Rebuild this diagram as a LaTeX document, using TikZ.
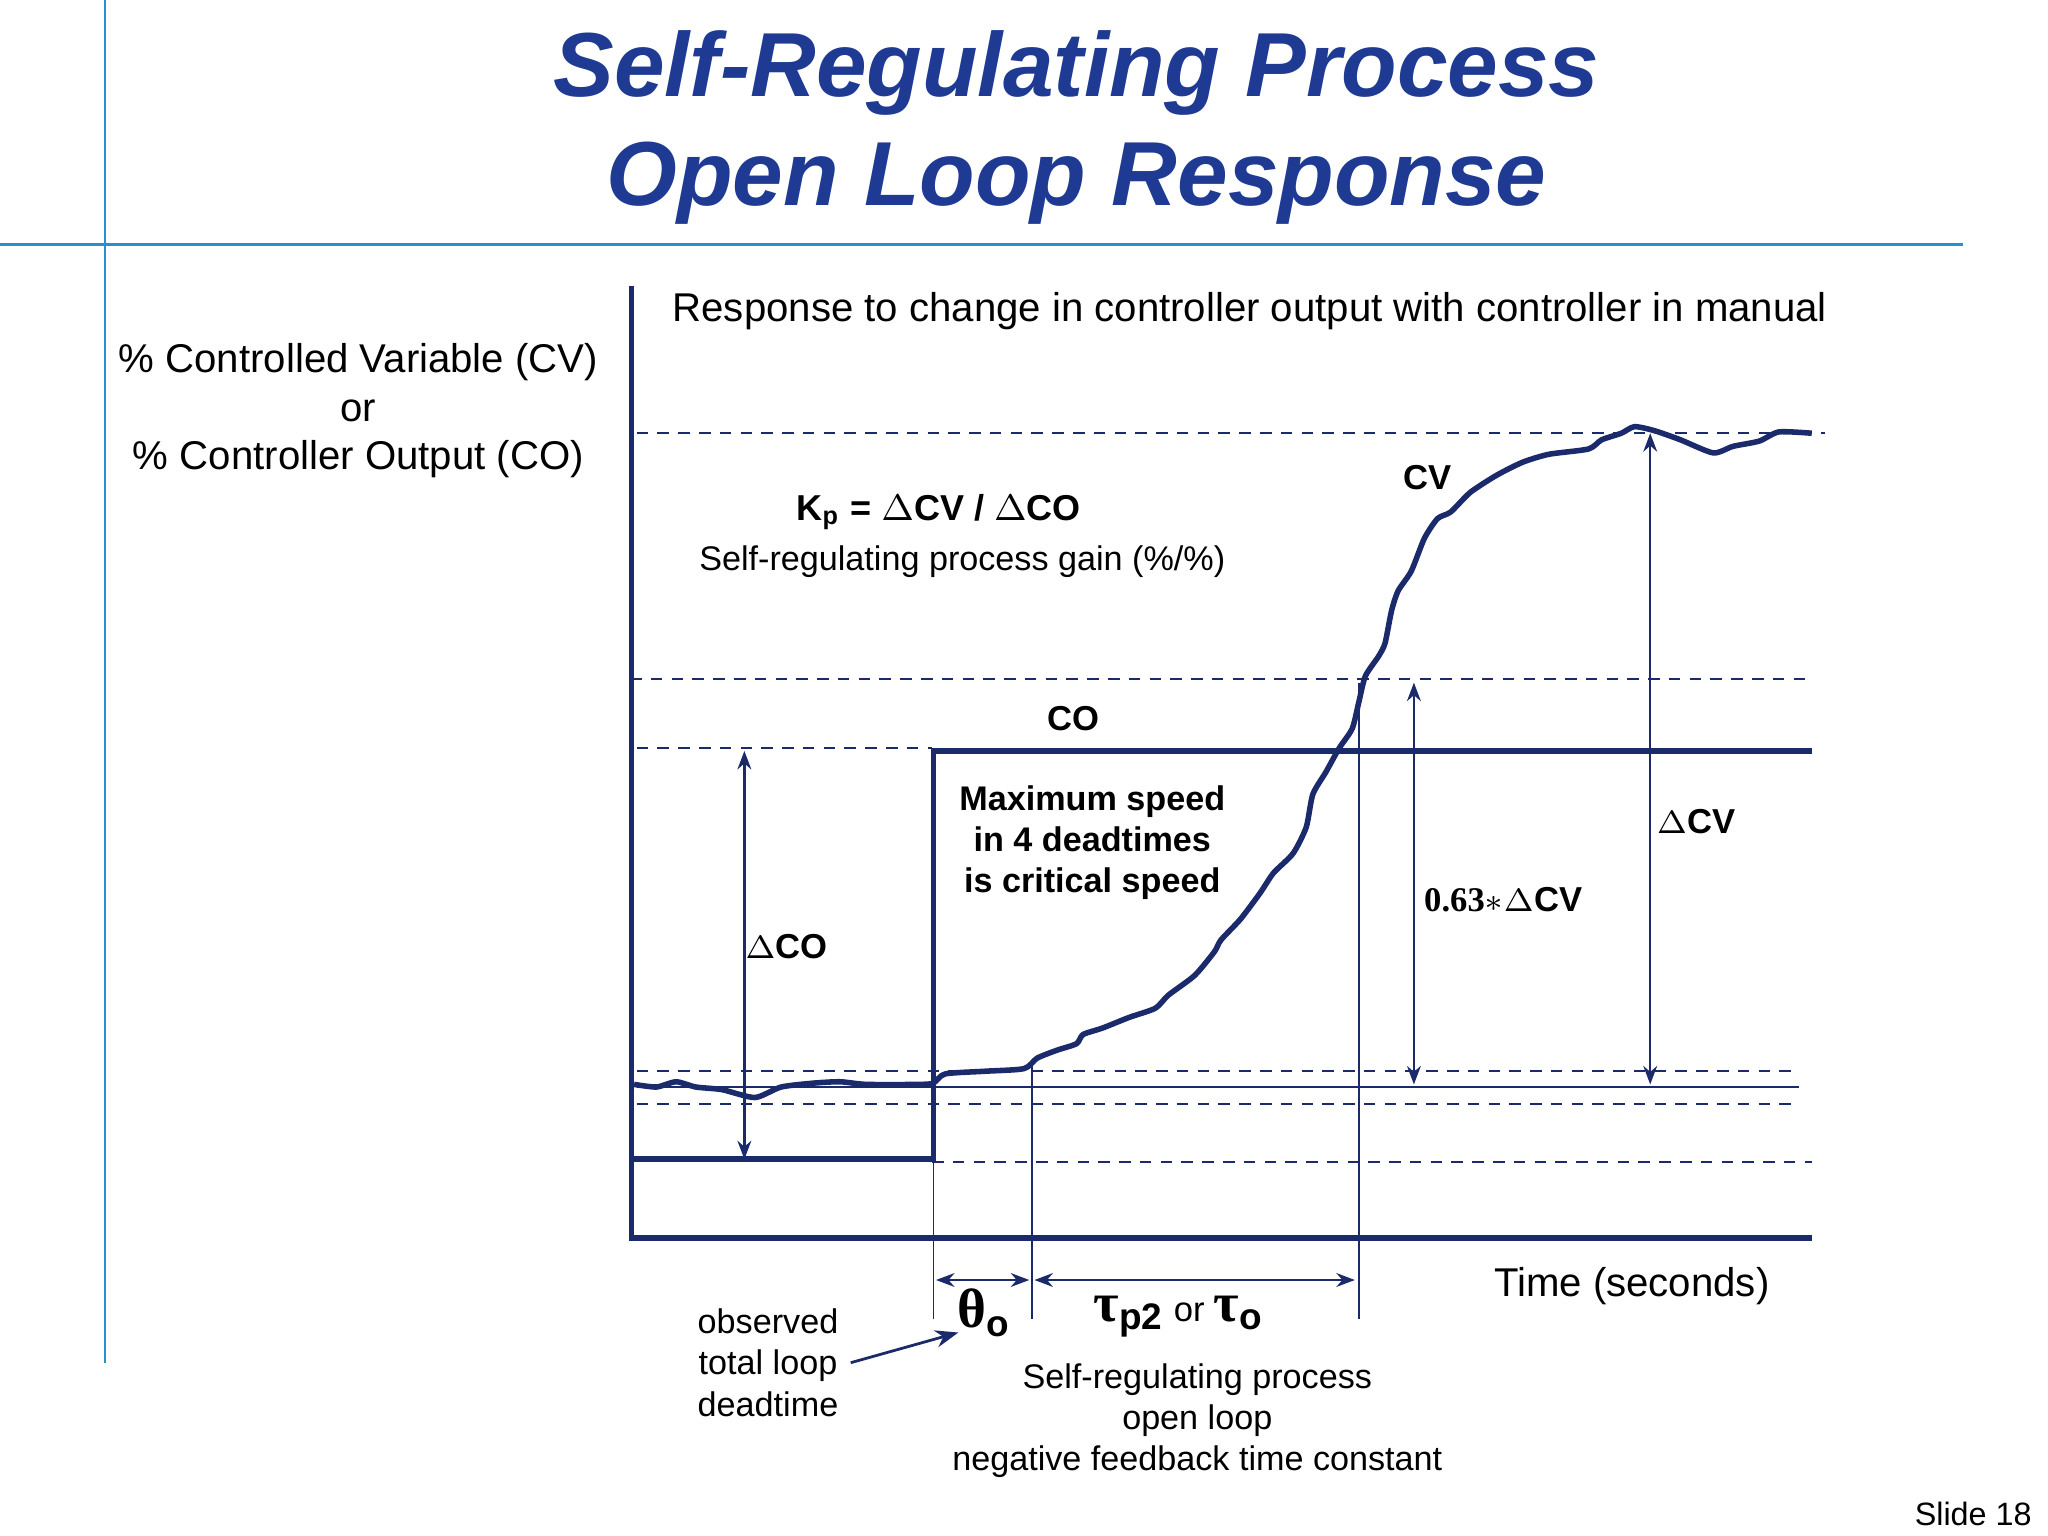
\documentclass[tikz,border=0pt]{standalone}
\usepackage{fontspec}
\setmainfont{Liberation Sans}
\newfontfamily\grk{Liberation Serif}
\usetikzlibrary{arrows.meta}
\definecolor{navy}{HTML}{1B2A6B}
\definecolor{tblue}{HTML}{1F3A93}
\definecolor{lblue}{HTML}{2A8FD0}
\begin{document}
\begin{tikzpicture}[x=0.01cm,y=-0.01cm,
  thick/.style={draw=navy,line width=1.2pt},
  thin/.style={draw=navy,line width=0.4pt},
  dsh/.style={draw=navy,line width=0.4pt,dash pattern=on 2.5pt off 2pt},
  dbl/.style={draw=navy,line width=0.5pt,{Stealth[length=4pt]}-{Stealth[length=4pt]}},
  txt/.style={font=\fontsize{7.4}{8.9}\selectfont,text=black,inner sep=0pt},
  btxt/.style={font=\fontsize{7.5}{9}\selectfont\bfseries,text=black,inner sep=0pt}]
\useasboundingbox (0,0) rectangle (1560,1170);
\fill[white] (0,0) rectangle (1560,1170);
\draw[lblue,line width=0.6pt] (80,0) -- (80,1038);
\draw[lblue,line width=0.6pt] (0,186) -- (1495,186);
\node[font=\fontsize{19.7}{23.5}\selectfont\bfseries\itshape,text=tblue,align=center] (title) at (820,97) {Self-Regulating Process\\Open Loop Response};
% axes
\coordinate (o) at (481,943);
\draw[thick] (481,218) -- (o) -- (1380,943);
% dashed
\draw[dsh] (485,330) -- (1390,330);
\draw[dsh] (480,517) -- (1380,517);
\draw[dsh] (485,570) -- (710,570);
\draw[dsh] (485,816) -- (1370,816);
\draw[dsh] (485,841) -- (1370,841);
\draw[dsh] (710,885) -- (1380,885);
\draw[thin] (485,828) -- (1370,828);
% CO
\draw[thick] (483,883) -- (711,883) -- (711,572) -- (1380,572);
% CV
\draw[thick,line join=round] plot[smooth,tension=0.4] coordinates {(483,826)(500,828)(515,824)(530,828)(550,830)(575,836)(595,828)(620,825)(640,824)(660,826)(700,826)(711,825)(720,818)(750,816)(780,814)(790,806)(805,800)(820,795)(825,788)(840,783)(860,775)(880,768)(890,758)(910,743)(925,725)(930,716)(945,700)(960,680)(970,665)(985,650)(995,630)(1000,605)(1010,588)(1020,570)(1030,555)(1035,535)(1040,515)(1050,500)(1055,490)(1060,465)(1065,450)(1075,435)(1085,410)(1095,395)(1105,390)(1120,375)(1140,362)(1160,352)(1180,346)(1210,342)(1220,335)(1235,330)(1245,325)(1260,328)(1280,335)(1305,345)(1320,340)(1340,336)(1355,329)(1380,330)};
% verticals
\draw[thin] (711,883) -- (711,1005);
\draw[thin] (786,810) -- (786,1005);
\draw[thin] (1035,520) -- (1035,1005);
% arrows
\draw[dbl] (567,572) -- (567,883);
\draw[dbl] (1077,520) -- (1077,826);
\draw[dbl] (1257,330) -- (1257,826);
\draw[dbl] (713,975) -- (784,975);
\draw[dbl] (788,975) -- (1032,975);
% texts
\node[txt,align=center,font=\fontsize{8.7}{10.5}\selectfont] (ylab) at (273,313) {\% Controlled Variable (CV)\\or\\\% Controller Output (CO)};
\node[txt,font=\fontsize{8.7}{10}\selectfont] (resp) at (952,237) {Response to change in controller output with controller in manual};
\node[btxt,font=\fontsize{7.8}{9}\selectfont\bfseries] (kp) at (715,390) {K\textsubscript{p} = $\Delta$CV / $\Delta$CO};
\node[txt] (gain) at (733,428) {Self-regulating process gain (\%/\%)};
\node[btxt] (cvl) at (1087,364) {CV};
\node[btxt] (col) at (818,547) {CO};
\node[btxt,align=center,font=\fontsize{7.4}{8.9}\selectfont\bfseries] (max) at (832,642) {Maximum speed\\in 4 deadtimes\\is critical speed};
\node[btxt] (dco) at (599,721) {$\Delta$CO};
\node[btxt] (dcv) at (1292,626) {$\Delta$CV};
\node[btxt] (d63) at (1145,685) {\grk 0.63$*$\fontspec{Liberation Sans}$\Delta$CV};
\node[txt,font=\fontsize{8.7}{10}\selectfont] (time) at (1243,980) {Time (seconds)};
\node[inner sep=0pt] (theta) at (750,1000) {\fontsize{12}{14}\selectfont\grk\bfseries θ\textsubscript{\fontsize{8}{9}\selectfont\sffamily\fontspec{Liberation Sans}\bfseries o}};
\node[inner sep=0pt] (tau) at (898,1003) {\fontsize{12}{14}\selectfont\grk\bfseries τ\textsubscript{\fontsize{8}{9}\selectfont\fontspec{Liberation Sans}\bfseries p2}\,{\fontspec{Liberation Sans}\fontsize{7.5}{9}\selectfont\mdseries or}\,τ\textsubscript{\fontsize{8}{9}\selectfont\fontspec{Liberation Sans}\bfseries o}};
\node[txt,align=center] (obs) at (585,1038) {observed\\total loop\\deadtime};
\node[txt,align=center] (srp) at (912,1082) {Self-regulating process\\open loop\\negative feedback time constant};
\coordinate (obsend) at (730,1015);
\draw[navy,line width=0.6pt,-{Stealth[length=5pt]}] (648,1038) -- (obsend);
\node[txt,font=\fontsize{7}{8}\selectfont] (slide) at (1503,1153) {Slide 18};
\end{tikzpicture}
\end{document}
